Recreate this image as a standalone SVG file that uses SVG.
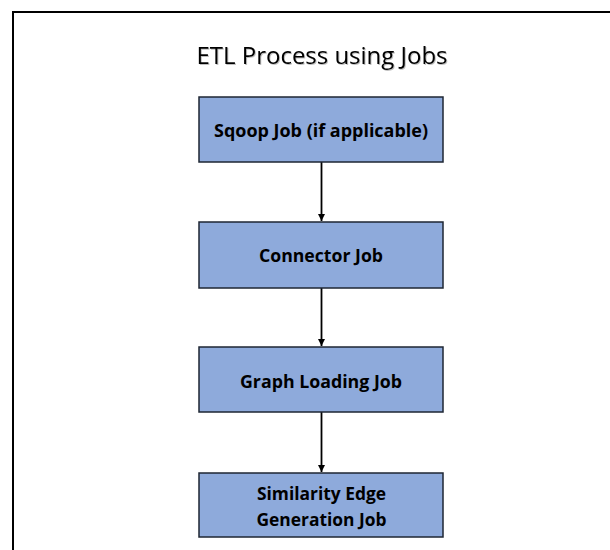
<svg xmlns="http://www.w3.org/2000/svg" width="610" height="550" viewBox="0 0 610 550">
<style>
.box{fill:#8EAADB;stroke:#1E2633;stroke-width:1.5}
.lbl{font-family:"Open Sans","Liberation Sans",sans-serif;font-weight:bold;font-size:18px;fill:#000;text-anchor:middle}
.title{font-family:"Open Sans","Liberation Sans",sans-serif;font-size:23.5px;fill:#000;text-anchor:middle}
.conn{stroke:#000;stroke-width:1.8;fill:none;marker-end:url(#ah)}
</style>
<defs>
<marker id="ah" viewBox="0 0 10 10" refX="10" refY="5" markerWidth="7" markerHeight="7" markerUnits="userSpaceOnUse" orient="auto">
<path d="M0,0 L10,5 L0,10 z" fill="#000"/>
</marker>
<filter id="sh" x="-5%" y="-20%" width="110%" height="150%">
<feDropShadow dx="1" dy="1" stdDeviation="0.6" flood-color="#000" flood-opacity="0.25"/>
</filter>
</defs>
<rect x="13" y="12" width="640" height="600" fill="#fff" stroke="#000" stroke-width="2"/>
<text class="title" x="322" y="63.5" textLength="251" lengthAdjust="spacingAndGlyphs" filter="url(#sh)">ETL Process using Jobs</text>
<g id="connectors">
<line class="conn" x1="321.5" y1="162" x2="321.5" y2="221"/>
<line class="conn" x1="321.5" y1="288" x2="321.5" y2="346"/>
<line class="conn" x1="321.5" y1="412" x2="321.5" y2="472"/>
</g>
<g id="sqoop">
<rect class="box" x="199" y="97" width="244" height="65"/>
<text class="lbl" x="321" y="136.5" textLength="214" lengthAdjust="spacingAndGlyphs">Sqoop Job (if applicable)</text>
</g>
<g id="connector">
<rect class="box" x="199" y="222" width="244" height="66"/>
<text class="lbl" x="321" y="261.5" textLength="124" lengthAdjust="spacingAndGlyphs">Connector Job</text>
</g>
<g id="graphloading">
<rect class="box" x="199" y="347" width="244" height="65"/>
<text class="lbl" x="321" y="387.5" textLength="162" lengthAdjust="spacingAndGlyphs">Graph Loading Job</text>
</g>
<g id="similarity">
<rect class="box" x="199" y="473" width="244" height="64"/>
<text class="lbl" x="321.5" y="499.5" textLength="129" lengthAdjust="spacingAndGlyphs">Similarity Edge</text>
<text class="lbl" x="321.5" y="525.5" textLength="130" lengthAdjust="spacingAndGlyphs">Generation Job</text>
</g>
</svg>
